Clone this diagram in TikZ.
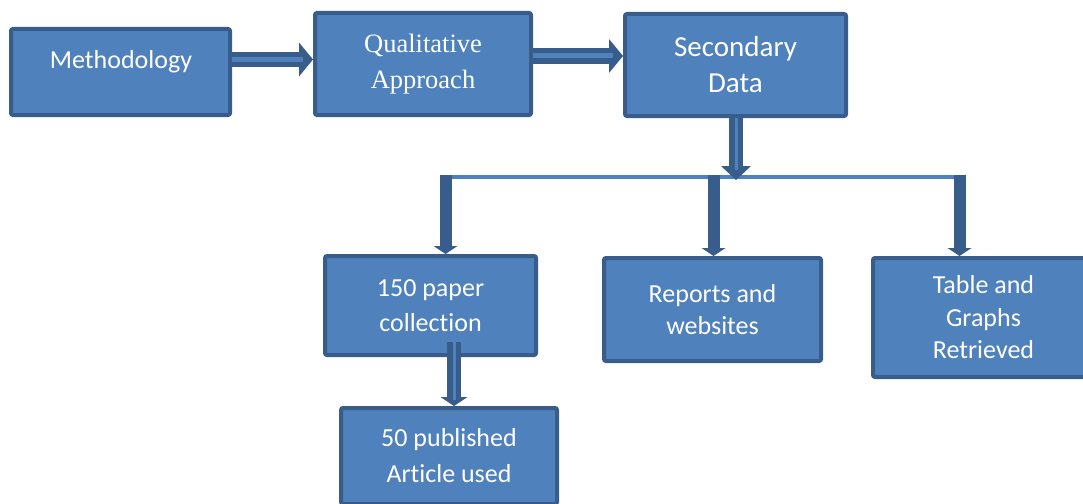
\documentclass[tikz,border=0pt]{standalone}
\usepackage{fontspec}
\setmainfont{Carlito}[Ligatures=NoCommon]
\newfontfamily\serifrm{Liberation Serif}
\usetikzlibrary{arrows.meta,calc}
\definecolor{boxfill}{HTML}{4F81BD}
\definecolor{boxline}{HTML}{385D8A}
\tikzset{
  box/.style={draw=boxline, line width=4pt, fill=boxfill, rounded corners=2pt,
    text=white, align=center, inner sep=0pt, font=\fontsize{26}{35}\selectfont},
  lbl/.style={text=white, inner sep=0pt, font=\fontsize{26}{35}\selectfont},
  harrow/.style={draw=boxline, line width=15pt,
    -{Triangle[length=14pt,width=34pt,line width=0pt]}},
  hstripe/.style={draw=boxfill, line width=5pt, shorten >=10pt},
  varrow/.style={draw=boxline, line width=14pt,
    -{Triangle[length=14pt,width=30pt,line width=0pt]}},
  vstripe/.style={draw=boxfill, line width=3pt, shorten >=10pt},
  barrow/.style={draw=boxline, line width=14pt,
    -{Triangle[length=9pt,width=27pt,line width=0pt]}},
  bstripe/.style={draw=boxfill, line width=3pt, shorten >=6pt},
  droparrow/.style={draw=boxline, line width=12pt,
    -{Triangle[length=8pt,width=24pt,line width=0pt]}},
  bus/.style={draw=boxfill, line width=4pt}
}
\begin{document}
\begin{tikzpicture}[x=1pt,y=-1pt]
\useasboundingbox (0,0) rectangle (1083,503);
% boxes
\node[box, minimum width=219pt, minimum height=86pt] (meth) at (120.5,72) {};
\node[lbl] (methlbl) at (121,62) {Methodology};
\node[box, minimum width=216pt, minimum height=102pt,
  font=\serifrm\fontsize{26.5}{36}\selectfont] (qual) at (423,64) {Qualitative\\Approach};
\node[box, minimum width=221pt, minimum height=102pt,
  font=\fontsize{29}{36}\selectfont] (sec) at (735.5,65) {Secondary\\Data};
\node[box, minimum width=211pt, minimum height=99pt] (paper) at (430.5,305.5) {150 paper\\collection};
\node[box, minimum width=217pt, minimum height=103pt,
  font=\fontsize{26}{32}\selectfont] (rep) at (712.5,309.5) {Reports and\\websites};
\node[box, minimum width=221pt, minimum height=119pt,
  font=\fontsize{26}{32.5}\selectfont] (tab) at (983.5,317.5) {Table and\\Graphs\\Retrieved};
\node[box, minimum width=216pt, minimum height=96pt,
  font=\fontsize{26}{36}\selectfont] (pub) at (449,456) {50 published\\Article used};
% bus
\coordinate (busL) at (440,177);
\coordinate (busR) at (957,177);
\coordinate (busS) at (736,180);
\coordinate (d1) at (445.5,175);
\coordinate (d2) at (713.5,175);
\coordinate (d3) at (959.5,175);
\draw[bus] (busL) -- (busR);
% horizontal arrows
\draw[harrow] ([yshift=12.5pt]meth.east) -- ([yshift=4.5pt]qual.west);
\draw[hstripe] ([yshift=12.5pt]meth.east) -- ([yshift=4.5pt]qual.west);
\draw[harrow] ([yshift=8pt]qual.east) -- ([yshift=9pt]sec.west);
\draw[hstripe] ([yshift=8pt]qual.east) -- ([yshift=9pt]sec.west);
% secondary down to bus
\draw[varrow] ([xshift=0.5pt]sec.south) -- (busS);
\draw[vstripe] ([xshift=0.5pt]sec.south) -- (busS);
% drops
\draw[droparrow] (d1) -- ([xshift=15pt]paper.north);
\draw[droparrow] (d2) -- ([xshift=1pt]rep.north);
\draw[droparrow] (d3) -- ([xshift=-24pt]tab.north);
% bottom arrow
\draw[barrow] ([xshift=23.5pt,yshift=15pt]paper.south) -- ([xshift=5pt]pub.north);
\draw[bstripe] ([xshift=23.5pt,yshift=15pt]paper.south) -- ([xshift=5pt]pub.north);
\end{tikzpicture}
\end{document}
